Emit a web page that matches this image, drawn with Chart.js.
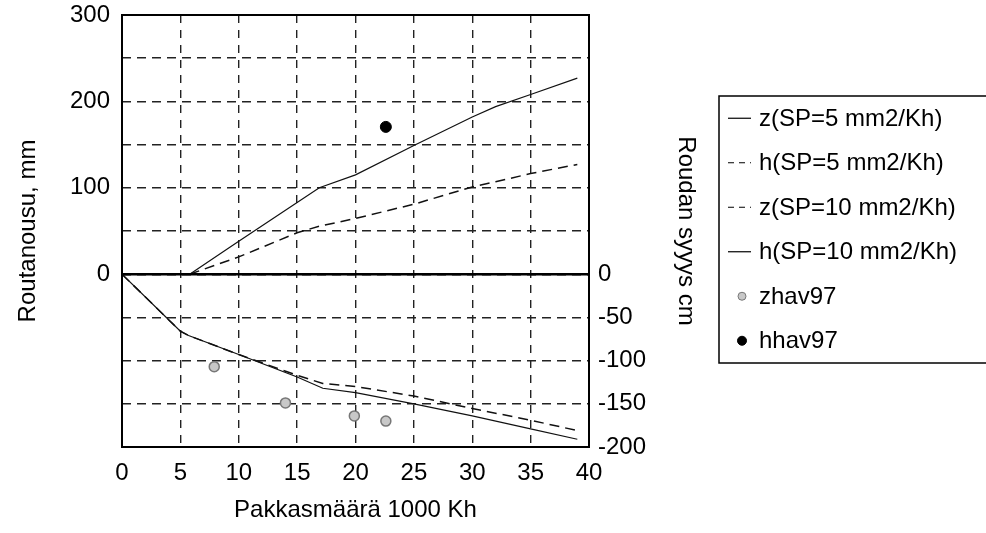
<!DOCTYPE html>
<html><head><meta charset="utf-8">
<script src="https://cdn.jsdelivr.net/npm/chart.js@4/dist/chart.umd.min.js"></script>
<style>html,body{margin:0;padding:0;background:#fff;}canvas{display:block;}</style>
</head><body>
<canvas id="c" width="986" height="533"></canvas>
<script>
// ---- data ----
const seriesLabels = ['z(SP=5 mm2/Kh)', 'h(SP=5 mm2/Kh)', 'z(SP=10 mm2/Kh)', 'h(SP=10 mm2/Kh)', 'zhav97', 'hhav97'];
// heave (upper part), mm
const hX  = [5.8, 10, 15, 16.9, 20, 25, 30, 32, 35, 39];
const h5  = [0, 20, 48, 55.5, 64.5, 81, 101, 107, 116.5, 127];
const h10 = [0, 38, 83, 100, 115, 149, 182, 194, 208, 227];
// frost depth (lower part), cm
const zX  = [0, 5, 5.7, 10, 15, 17.2, 20, 25, 30, 35, 39];
const z5  = [0, -66, -71, -93, -119, -132, -137, -150, -164, -179, -191];
const z10 = [0, -66, -71, -93, -117, -126.5, -130, -141, -155.5, -169, -181];
// observations
const zhavX = [7.9, 14, 19.9, 22.6];
const zhav  = [-107, -149, -164, -170];
const hhavX = [22.6];
const hhav  = [170.5];
// tick labels
const xTickValues = [0, 5, 10, 15, 20, 25, 30, 35, 40];
const leftTickLabels = [300, 200, 100, 0];
const rightTickLabels = [0, -50, -100, -150, -200];

const FONT = '"Liberation Sans", Arial, Helvetica, sans-serif';
const pts = (xs, ys) => xs.map((x, i) => ({x: x, y: ys[i]}));

const frameAndZero = {
  id: 'frameAndZero',
  afterDatasetsDraw(chart) {
    const {ctx, chartArea: a, scales} = chart;
    ctx.save();
    const y0 = scales.y.getPixelForValue(0);
    ctx.strokeStyle = '#000';
    ctx.lineWidth = 2.5;
    ctx.beginPath(); ctx.moveTo(a.left, y0); ctx.lineTo(a.right, y0); ctx.stroke();
    ctx.lineWidth = 2;
    ctx.strokeRect(a.left, a.top, a.right - a.left, a.bottom - a.top);
    ctx.restore();
  }
};

const boxLegend = {
  id: 'boxLegend',
  afterDraw(chart) {
    const ctx = chart.ctx;
    const bx = 719, by = 96, bw = 300, bh = 267;
    const rowH = bh / 6;
    ctx.save();
    ctx.strokeStyle = '#000';
    ctx.lineWidth = 1.5;
    ctx.strokeRect(bx, by, bw, bh);
    chart.data.datasets.forEach((ds, i) => {
      const cy = by + rowH * (i + 0.5);
      if (ds.showLine) {
        ctx.strokeStyle = '#000';
        ctx.lineWidth = 1.2;
        ctx.setLineDash(ds.borderDash && ds.borderDash.length ? [6, 5] : []);
        ctx.beginPath(); ctx.moveTo(728, cy); ctx.lineTo(751, cy); ctx.stroke();
        ctx.setLineDash([]);
      } else {
        ctx.beginPath(); ctx.arc(742, cy, ds.legendR, 0, Math.PI * 2);
        ctx.fillStyle = ds.backgroundColor; ctx.fill();
        ctx.lineWidth = 1; ctx.strokeStyle = ds.borderColor; ctx.stroke();
      }
      ctx.fillStyle = '#000';
      ctx.font = '24px ' + FONT;
      ctx.textBaseline = 'middle';
      ctx.textAlign = 'left';
      ctx.fillText(ds.label, 759, cy + 1);
    });
    ctx.restore();
  }
};

const noPad = s => { s.paddingTop = 0; s.paddingBottom = 0; };

new Chart(document.getElementById('c'), {
  type: 'scatter',
  data: {
    datasets: [
      {label: seriesLabels[0], data: pts(zX, z5), showLine: true, borderColor: '#111', borderWidth: 1.2, pointRadius: 0, borderDash: []},
      {label: seriesLabels[1], data: pts(hX, h5), showLine: true, borderColor: '#111', borderWidth: 1.5, pointRadius: 0, borderDash: [10, 6]},
      {label: seriesLabels[2], data: pts(zX, z10), showLine: true, borderColor: '#111', borderWidth: 1.5, pointRadius: 0, borderDash: [10, 6]},
      {label: seriesLabels[3], data: pts(hX, h10), showLine: true, borderColor: '#111', borderWidth: 1.2, pointRadius: 0, borderDash: []},
      {label: seriesLabels[4], data: pts(zhavX, zhav), showLine: false, backgroundColor: '#c8c8c8', borderColor: '#777', borderWidth: 1.5, pointRadius: 5, legendR: 4},
      {label: seriesLabels[5], data: pts(hhavX, hhav), showLine: false, backgroundColor: '#000', borderColor: '#000', borderWidth: 1, pointRadius: 5.5, legendR: 4.5}
    ]
  },
  options: {
    responsive: false,
    animation: false,
    layout: {padding: {left: 0, right: 286, top: 15, bottom: 0}},
    plugins: {legend: {display: false}, tooltip: {enabled: false}},
    scales: {
      x: {
        type: 'linear', min: 0, max: 40,
        afterBuildTicks: s => { s.ticks = xTickValues.map(v => ({value: v})); },
        afterFit: s => { s.height = 86; },
        grid: {color: '#222', lineWidth: 1.4, drawTicks: false},
        border: {display: false, dash: [8, 7]},
        ticks: {color: '#000', font: {family: FONT, size: 24}, padding: 12, maxRotation: 0},
        title: {display: true, text: 'Pakkasmäärä 1000 Kh', color: '#000', font: {family: FONT, size: 24}, padding: {top: 0, bottom: 8}}
      },
      y: {
        position: 'left', min: -200, max: 300,
        ticks: {stepSize: 50, color: '#000', font: {family: FONT, size: 24}, padding: 12,
          callback: v => leftTickLabels.includes(v) ? String(v) : ''},
        afterFit: s => { s.width = 122; noPad(s); },
        grid: {color: '#222', lineWidth: 1.4, drawTicks: false},
        border: {display: false, dash: [9, 6]},
        title: {display: true, text: 'Routanousu, mm', color: '#000', font: {family: FONT, size: 24}, padding: {top: 14, bottom: 0}}
      },
      y2: {
        position: 'right', min: -200, max: 300,
        ticks: {stepSize: 50, color: '#000', font: {family: FONT, size: 24}, padding: 9,
          callback: v => rightTickLabels.includes(v) ? String(v) : ''},
        afterFit: s => { s.width = 111; noPad(s); },
        grid: {display: false, drawTicks: false},
        border: {display: false},
        title: {display: true, text: 'Roudan syyys cm', color: '#000', font: {family: FONT, size: 24}, padding: {top: 0, bottom: 0}}
      }
    }
  },
  plugins: [frameAndZero, boxLegend]
});
</script>
</body></html>
